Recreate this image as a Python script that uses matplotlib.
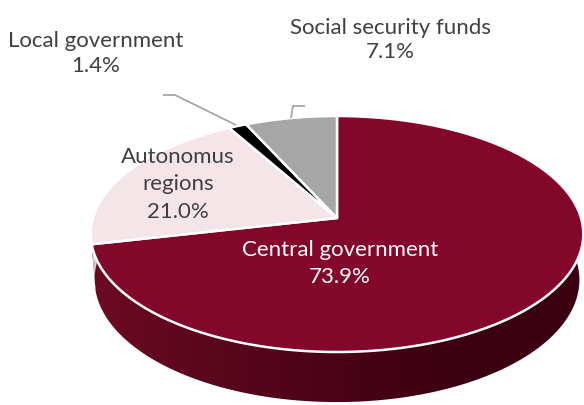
import numpy as np
import matplotlib
matplotlib.use("Agg")
import matplotlib.pyplot as plt
from matplotlib.patches import Polygon

# Shares of the total, in drawing order (clockwise from 12 o'clock)
categories = ["Central government", "Autonomus regions", "Local government", "Social security funds"]
shares = [73.9, 21.0, 1.4, 7.1]
top_colors = ["#82072a", "#f3e5e8", "#000000", "#a6a6a6"]
side_light = ["#6e0a24", "#d9c9cd", "#101010", "#8a8a8a"]
side_dark = ["#3a0011", "#b9a9ad", "#000000", "#707070"]

# Text lines of each label
label_lines = [
    ["Central government", "{:.1f}%"],
    ["Autonomus", "regions", "{:.1f}%"],
    ["Local government", "{:.1f}%"],
    ["Social security funds", "{:.1f}%"],
]

# --- perspective projection of a flat disc (radius 1) seen from above ---
SIN_E = 0.4747
COS_E = np.sqrt(1 - SIN_E ** 2)
DIST = 6.49
SCALE = 244.0
CX, CY = 337.0, 218.0
DEPTH = 0.215


def project(x, y, z):
    v = y * SIN_E + z * COS_E
    c = -y * COS_E + z * SIN_E
    f = DIST / (DIST - c)
    return CX + SCALE * x * f, CY - SCALE * v * f


def rim(theta, z=0.0):
    return project(np.cos(theta), np.sin(theta), z)


fig = plt.figure(figsize=(5.84, 4.05), dpi=100)
ax = fig.add_axes([0, 0, 1, 1])

vals = np.asarray(shares, dtype=float)
fracs = vals / vals.sum()
bounds = np.deg2rad(90.0 - 360.0 * np.concatenate([[0], np.cumsum(fracs)]))


def side_polygon(t_from, t_to):
    th = np.linspace(t_from, t_to, 300)
    xt, yt = rim(th)
    xb, yb = rim(th[::-1], -DEPTH)
    return np.column_stack([np.concatenate([xt, xb]), np.concatenate([yt, yb])])


# --- side wall of each wedge (front half only), shaded left to right ---
X0, X1 = 88.0, 586.0
for i in range(len(vals)):
    a_hi, a_lo = bounds[i], bounds[i + 1]
    # bring the wedge's range onto the front half (pi .. 2pi)
    lo = np.mod(a_lo, 2 * np.pi)
    hi = lo + (a_hi - a_lo)
    t_from, t_to = max(lo, np.pi), min(hi, 2 * np.pi)
    if t_to <= t_from:
        continue
    poly = Polygon(side_polygon(t_from, t_to), closed=True,
                   facecolor="none", edgecolor="none")
    ax.add_patch(poly)
    c0 = np.array(matplotlib.colors.to_rgb(side_light[i]))
    c1 = np.array(matplotlib.colors.to_rgb(side_dark[i]))
    t = np.clip(np.linspace(0, 1, 256) / 0.75, 0, 1) ** 0.9
    grad = (c0[None, :] + (c1 - c0)[None, :] * t[:, None])[None, :, :]
    im = ax.imshow(grad, extent=(X0, X1, 410, 190), aspect="auto",
                   interpolation="bilinear", zorder=1)
    im.set_clip_path(poly)

# --- top face wedges ---
for i in range(len(vals)):
    a0, a1 = bounds[i], bounds[i + 1]
    th = np.linspace(a0, a1, max(8, int(abs(a0 - a1) / np.deg2rad(0.5))))
    xs, ys = rim(th)
    pts = [(CX, CY)] + list(zip(xs, ys))
    ax.add_patch(Polygon(pts, closed=True, facecolor=top_colors[i],
                         edgecolor="white", linewidth=1.8, joinstyle="round",
                         zorder=2))

# --- leader lines for the small slices ---
lead = "#a6a6a6"
ax.plot([163, 175, 236], [95, 95, 125], color=lead, lw=1.3, zorder=3,
        solid_capstyle="butt", solid_joinstyle="miter")
ax.plot([305, 293, 291], [106, 106, 118], color=lead, lw=1.3, zorder=3,
        solid_capstyle="butt", solid_joinstyle="miter")

# --- labels ---
label_pos = [
    (340, [256, 283], "white"),
    (178, [163, 190, 218], "#404040"),
    (96, [47, 72], "#404040"),
    (390, [34, 58], "#404040"),
]
for i, (x, baselines, col) in enumerate(label_pos):
    for line, yb in zip(label_lines[i], baselines):
        txt = line.format(vals[i]) if "{" in line else line
        ax.text(x, yb, txt, ha="center", va="baseline", fontsize=16,
                family="Lato", color=col, zorder=4)

ax.set_xlim(0, 584)
ax.set_ylim(405, 0)
ax.axis("off")

fig.savefig("out.png", dpi=100)
